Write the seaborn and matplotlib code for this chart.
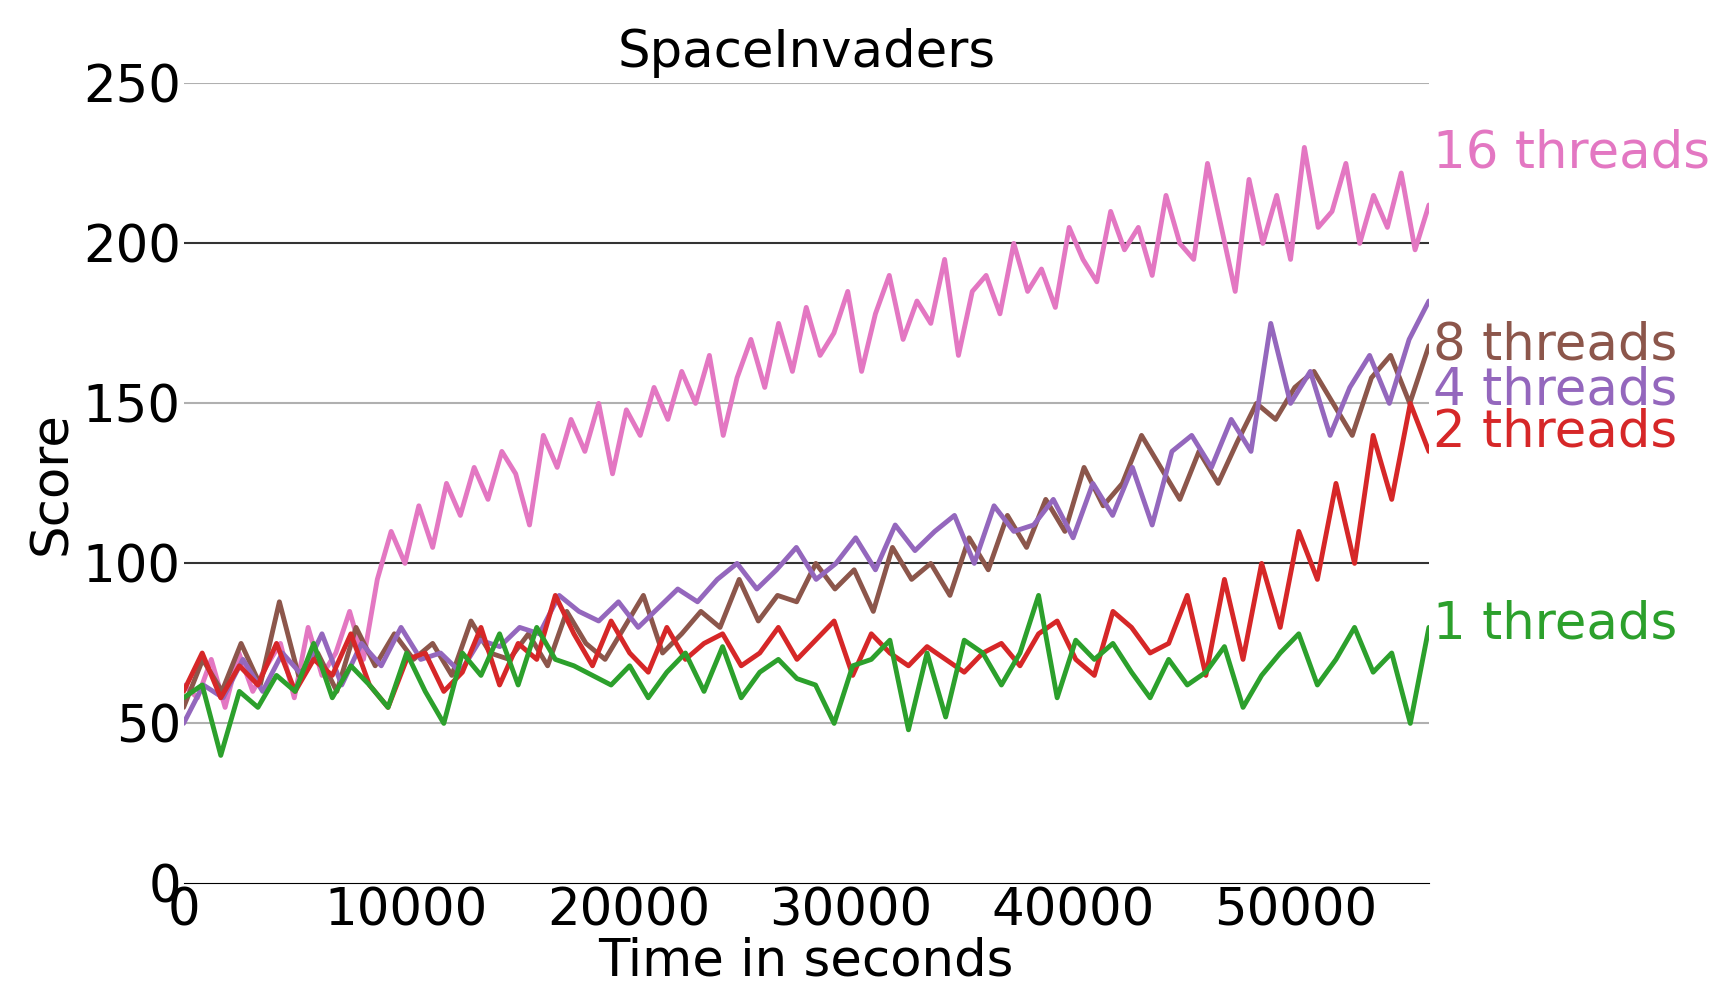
import numpy as np
import pandas as pd
import seaborn as sns
import matplotlib.pyplot as plt

# scores (approximate)
s16 = [62,58,70,55,72,60,68,75,58,80,65,72,85,70,95,110,100,118,105,125,115,130,120,135,128,112,140,130,
       145,135,150,128,148,140,155,145,160,150,165,140,158,170,155,175,160,180,165,172,185,160,178,190,170,
       182,175,195,165,185,190,178,200,185,192,180,205,195,188,210,198,205,190,215,200,195,225,205,185,220,
       200,215,195,230,205,210,225,200,215,205,222,198,212]
s8 = [55,70,60,75,62,88,65,72,60,80,68,78,70,75,65,82,72,70,78,68,85,75,70,80,90,72,78,85,80,95,82,90,
      88,100,92,98,85,105,95,100,90,108,98,115,105,120,110,130,118,125,140,130,120,135,125,138,150,145,
      155,160,150,140,158,165,150,168]
s4 = [50,62,58,70,60,72,65,78,62,75,68,80,70,72,66,76,74,80,78,90,85,82,88,80,86,92,88,95,100,92,98,
      105,95,100,108,98,112,104,110,115,100,118,110,112,120,108,125,115,130,112,135,140,130,145,135,175,
      150,160,140,155,165,150,170,182]
s2 = [60,72,58,68,62,75,60,70,65,78,62,55,70,72,60,66,80,62,75,70,90,78,68,82,72,66,80,70,75,78,68,72,
      80,70,76,82,65,78,72,68,74,70,66,72,75,68,78,82,70,65,85,80,72,75,90,65,95,70,100,80,110,95,
      125,100,140,120,150,135]
s1 = [58,62,40,60,55,65,60,75,58,68,62,55,72,60,50,72,65,78,62,80,70,68,65,62,68,58,66,72,60,74,58,
      66,70,64,62,50,68,70,76,48,72,52,76,72,62,72,90,58,76,70,75,66,58,70,62,66,74,55,65,72,78,62,70,
      80,66,72,50,80]
series = [("16 threads", s16, "#e377c2", 228), ("8 threads", s8, "#8c564b", 168),
          ("4 threads", s4, "#9467bd", 154), ("2 threads", s2, "#d62728", 141),
          ("1 threads", s1, "#2ca02c", 81)]
t_end = 56000

sns.set_style("white")
plt.rcParams['font.family'] = ['DejaVu Sans']
fig, ax = plt.subplots(figsize=(17.32, 10.05), dpi=100)
fig.subplots_adjust(left=0.106, right=0.825, top=0.917, bottom=0.121)

for y in [50, 150, 250]:
    ax.axhline(y, color="#b0b0b0", lw=1.5, zorder=0)
for y in [100, 200]:
    ax.axhline(y, color="#333333", lw=1.5, zorder=0)

for name, vals, col, ly in series:
    df = pd.DataFrame({"t": np.linspace(0, t_end, len(vals)), "score": vals})
    sns.lineplot(data=df, x="t", y="score", color=col, lw=3.5, ax=ax)
    ax.text(t_end + 200, ly, name, color=col, fontsize=37, va="center", ha="left")

ax.set_xlim(0, t_end)
ax.set_ylim(0, 250)
ax.set_xticks([0, 10000, 20000, 30000, 40000, 50000])
ax.set_yticks([0, 50, 100, 150, 200, 250])
ax.tick_params(labelsize=37, length=0, pad=2, colors="black")
for s in ["top", "right", "left"]:
    ax.spines[s].set_visible(False)
ax.spines["bottom"].set_color("black")
ax.set_xlabel("Time in seconds", fontsize=37, labelpad=0, color="black")
ax.set_ylabel("Score", fontsize=37, color="black")
ax.set_title("SpaceInvaders", fontsize=37, color="black", pad=12)
fig.savefig("out.png")
